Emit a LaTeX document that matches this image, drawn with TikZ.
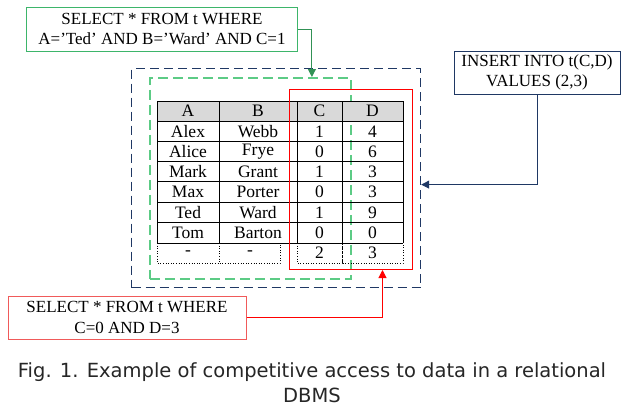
\documentclass[tikz,border=0pt]{standalone}
\usepackage{fontspec}
\setmainfont{Liberation Serif}
\newfontfamily\capfont{DejaVu Sans}
\usetikzlibrary{arrows.meta}
\definecolor{qgreen}{HTML}{3DB56A}
\definecolor{lgreen}{HTML}{5CCB85}
\definecolor{navy}{HTML}{1F3864}
\definecolor{qred}{HTML}{F05A5A}
\definecolor{hgray}{HTML}{D9D9D9}
\tikzset{
  query/.style={draw, line width=1pt, align=center, inner sep=0pt,
    font=\fontsize{17}{20.5}\selectfont},
  frame/.style={inner sep=0pt, anchor=north west},
  cell/.style={font=\fontsize{17.5}{18}\selectfont, inner sep=0pt}
}
\begin{document}
\begin{tikzpicture}[x=1pt,y=-1pt]
\useasboundingbox (0,0) rectangle (625,410);
% frames
\node[frame, draw=navy, line width=1.2pt, dash pattern=on 9pt off 5pt,
  minimum width=289pt, minimum height=219pt] (all) at (131,68) {};
\node[frame, draw=lgreen, line width=1.8pt, dash pattern=on 10pt off 5pt,
  minimum width=201pt, minimum height=201pt] (gframe) at (149,77) {};
% table
\fill[hgray] (157,101) rectangle (403,121);
\foreach \y in {101,121,141,161,181,202,222,243}
  \draw[line width=.9pt] (157,\y) -- (403,\y);
\foreach \x in {157,219,297,342,403}
  \draw[line width=.9pt] (\x,101) -- (\x,243);
\foreach \l/\r in {157/219,219/280,297/342,342/403}
  \draw[dotted, line width=.6pt] (\l,243) rectangle (\r,263);
\foreach \a/\b/\c/\d [count=\i from 0] in
    {A/B/C/D,Alex/Webb/1/4,Alice/Frye/0/6,Mark/Grant/1/3,
     Max/Porter/0/3,Ted/Ward/1/9,Tom/Barton/0/0}{
  \node[cell] (a\i) at (188,111+20.3*\i) {\a};
  \node[cell] (b\i) at (258,111+20.3*\i) {\b};
  \node[cell] (c\i) at (319.5,111+20.3*\i) {\c};
  \node[cell] (d\i) at (372.5,111+20.3*\i) {\d};
}
\node[cell] (a7) at (188,253) {-};
\node[cell] (b7) at (250,253) {-};
\node[cell] (c7) at (319.5,253) {2};
\node[cell] (d7) at (372.5,253) {3};
\node[frame, draw=red, line width=1pt,
  minimum width=123pt, minimum height=180pt] (rframe) at (289,89) {};
% queries
\node[query, draw=qgreen, minimum width=271pt, minimum height=44pt]
  (qa) at (162,29) {SELECT * FROM t WHERE\\A=’Ted’ AND B=’Ward’ AND C=1};
\node[query, draw=navy, minimum width=166pt, minimum height=43pt]
  (qb) at (537,72.5) {INSERT INTO t(C,D)\\VALUES (2,3)};
\node[query, draw=qred, minimum width=238pt, minimum height=43pt]
  (qc) at (127,317.5) {SELECT * FROM t WHERE\\C=0 AND D=3};
% connectors
\coordinate (ga) at ([xshift=61.5pt]gframe.north);
\coordinate (nb) at ([yshift=-6.5pt]all.east);
\coordinate (rc) at ([xshift=31.5pt]rframe.south);
\draw[qgreen!80!black, line width=1pt, -{Triangle[length=8pt,width=8pt]}]
  (qa.east) -| (ga);
\draw[navy, line width=1pt, -{Triangle[length=8pt,width=8pt]}]
  (qb.south) |- (nb);
\draw[red, line width=1pt, -{Triangle[length=8pt,width=8pt]}]
  (qc.east) -| (rc);
% caption
\node[font=\capfont\fontsize{19.5}{25}\selectfont, align=center, text=black!85]
  (cap) at (312,383) {Fig. 1. Example of competitive access to data in a relational\\DBMS};
\end{tikzpicture}
\end{document}
